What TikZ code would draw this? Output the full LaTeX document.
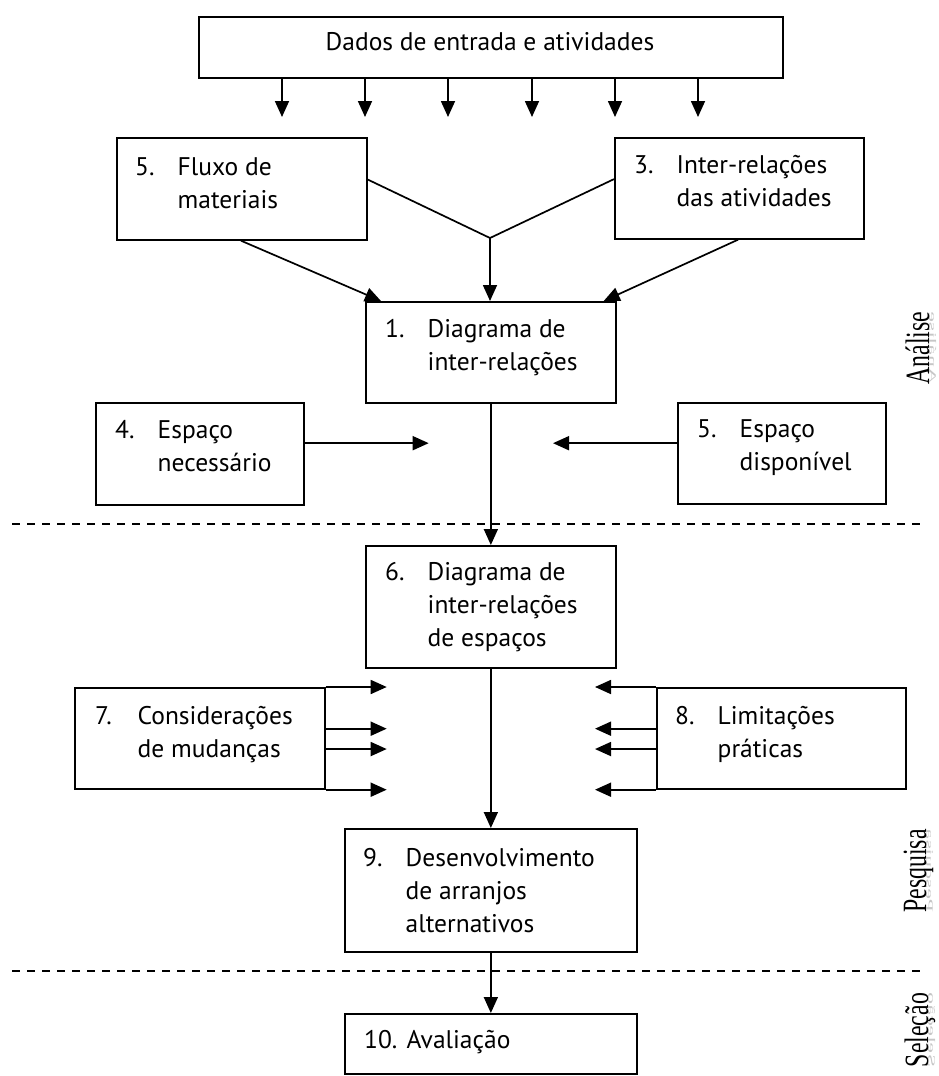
\documentclass[tikz,border=0pt]{standalone}
\usepackage{fontspec}
\setmainfont{PT Sans}
\newfontfamily\lblfont{Liberation Serif}
\usetikzlibrary{arrows.meta,calc}
\newcommand{\itm}[2]{\begin{tabular}[t]{@{}p{42.5pt}@{}l@{}}#1&#2\end{tabular}}
\begin{document}
\begin{tikzpicture}[x=1pt,y=-1pt,
  box/.style={draw, line width=1.7pt, inner sep=0pt, anchor=north west},
  txt/.style={inner sep=0pt, anchor=base west, font=\fontsize{25.5pt}{33pt}\selectfont},
  arr/.style={line width=1.7pt, -{Triangle[width=14pt,length=16pt]}},
  ln/.style={line width=1.7pt},
  sep/.style={line width=1.3pt, dash pattern=on 8pt off 7pt},
  side/.style={rotate=90, anchor=base, inner sep=0pt, font=\lblfont\fontsize{34pt}{34pt}\selectfont}]
\useasboundingbox (0,0) rectangle (939,1076);

% boxes
\node[box, minimum width=584pt, minimum height=61pt] (top) at (198,16) {};
\node[box, minimum width=250pt, minimum height=102pt] (b5a) at (116,137) {};
\node[box, minimum width=249pt, minimum height=101pt] (b3) at (614,137) {};
\node[box, minimum width=250pt, minimum height=101pt] (b1) at (365,301) {};
\node[box, minimum width=208pt, minimum height=102pt] (b4) at (95,402) {};
\node[box, minimum width=208pt, minimum height=101pt] (b5b) at (677,402) {};
\node[box, minimum width=250pt, minimum height=122pt] (b6) at (365,545) {};
\node[box, minimum width=250pt, minimum height=101pt] (b7) at (74,687) {};
\node[box, minimum width=249pt, minimum height=101pt] (b8) at (656,687) {};
\node[box, minimum width=292pt, minimum height=123pt] (b9) at (344,828) {};
\node[box, minimum width=292pt, minimum height=60pt] (b10) at (344,1013) {};

% texts
\node[txt, anchor=base] (ttop) at (490,50) {Dados de entrada e atividades};
\node[txt] (t5a) at (135,175) {\itm{5.}{Fluxo de\\&materiais}};
\node[txt] (t3) at (634,173) {\itm{3.}{Inter-relações\\&das atividades}};
\node[txt] (t1) at (385,337) {\itm{1.}{Diagrama de\\&inter-relações}};
\node[txt] (t4) at (115,438) {\itm{4.}{Espaço\\&necessário}};
\node[txt] (t5b) at (697,437) {\itm{5.}{Espaço\\&disponível}};
\node[txt] (t6) at (385,580) {\itm{6.}{Diagrama de\\&inter-relações\\&de espaços}};
\node[txt] (t7) at (95,724) {\itm{7.}{Considerações\\&de mudanças}};
\node[txt] (t8) at (675,724) {\itm{8.}{Limitações\\&práticas}};
\node[txt] (t9) at (363,866) {\itm{9.}{Desenvolvimento\\&de arranjos\\&alternativos}};
\node[txt] (t10) at (364,1048) {\itm{10.}{Avaliação}};

% arrows from the top box
\foreach \i/\xx in {1/282,2/365,3/448,4/532,5/615,6/698}{
  \coordinate (d\i) at (\xx,117);
  \draw[arr] (top.south -| d\i) -- (d\i);
}

% V junction
\coordinate (vj) at (490,238);
\draw[ln] ($(b5a.north east)!0.41!(b5a.south east)$) -- (vj);
\draw[ln] ($(b3.north west)!0.41!(b3.south west)$) -- (vj);
\draw[arr] (vj) -- (vj |- b1.north);
\draw[arr] ($(b5a.south west)+(125,0)$) -- ($(b1.north west)+(16,0)$);
\draw[arr] ($(b3.south west)+(124,0)$) -- ($(b1.north east)+(-13,0)$);

% space arrows
\draw[arr] ($(b4.north east)!0.397!(b4.south east)$) -- ++(124,0);
\draw[arr] ($(b5b.north west)!0.401!(b5b.south west)$) -- ++(-124,0);

% main flow
\draw[arr] (b1.south) -- (b6.north);
\draw[arr] (b6.south) -- (b9.north);
\draw[arr] (b9.south) -- (b10.north);

% considerations / limitations arrows
\foreach \f in {0,0.406,0.604,1}{
  \draw[arr] ($(b7.north east)!\f!(b7.south east)$) -- ++(61,0);
  \draw[arr] ($(b8.north west)!\f!(b8.south west)$) -- ++(-61,0);
}

% separators
\coordinate (s1a) at (12,524); \coordinate (s1b) at (925,524);
\coordinate (s2a) at (12,971); \coordinate (s2b) at (925,971);
\draw[sep] (s1a) -- (s1b);
\draw[sep] (s2a) -- (s2b);

% side labels with reflection
\node[side, text=gray!45] (ranalise) at (929,348) {\scalebox{0.7}[-0.3]{Análise}};
\node[side] (lanalise) at (929,348) {\scalebox{0.7}[1]{Análise}};
\node[side, text=gray!45] (rpesquisa) at (926,871) {\scalebox{0.7}[-0.3]{Pesquisa}};
\node[side] (lpesquisa) at (926,871) {\scalebox{0.7}[1]{Pesquisa}};
\node[side, text=gray!45] (rselecao) at (928,1030) {\scalebox{0.7}[-0.3]{Seleção}};
\node[side] (lselecao) at (928,1030) {\scalebox{0.7}[1]{Seleção}};
\end{tikzpicture}
\end{document}
